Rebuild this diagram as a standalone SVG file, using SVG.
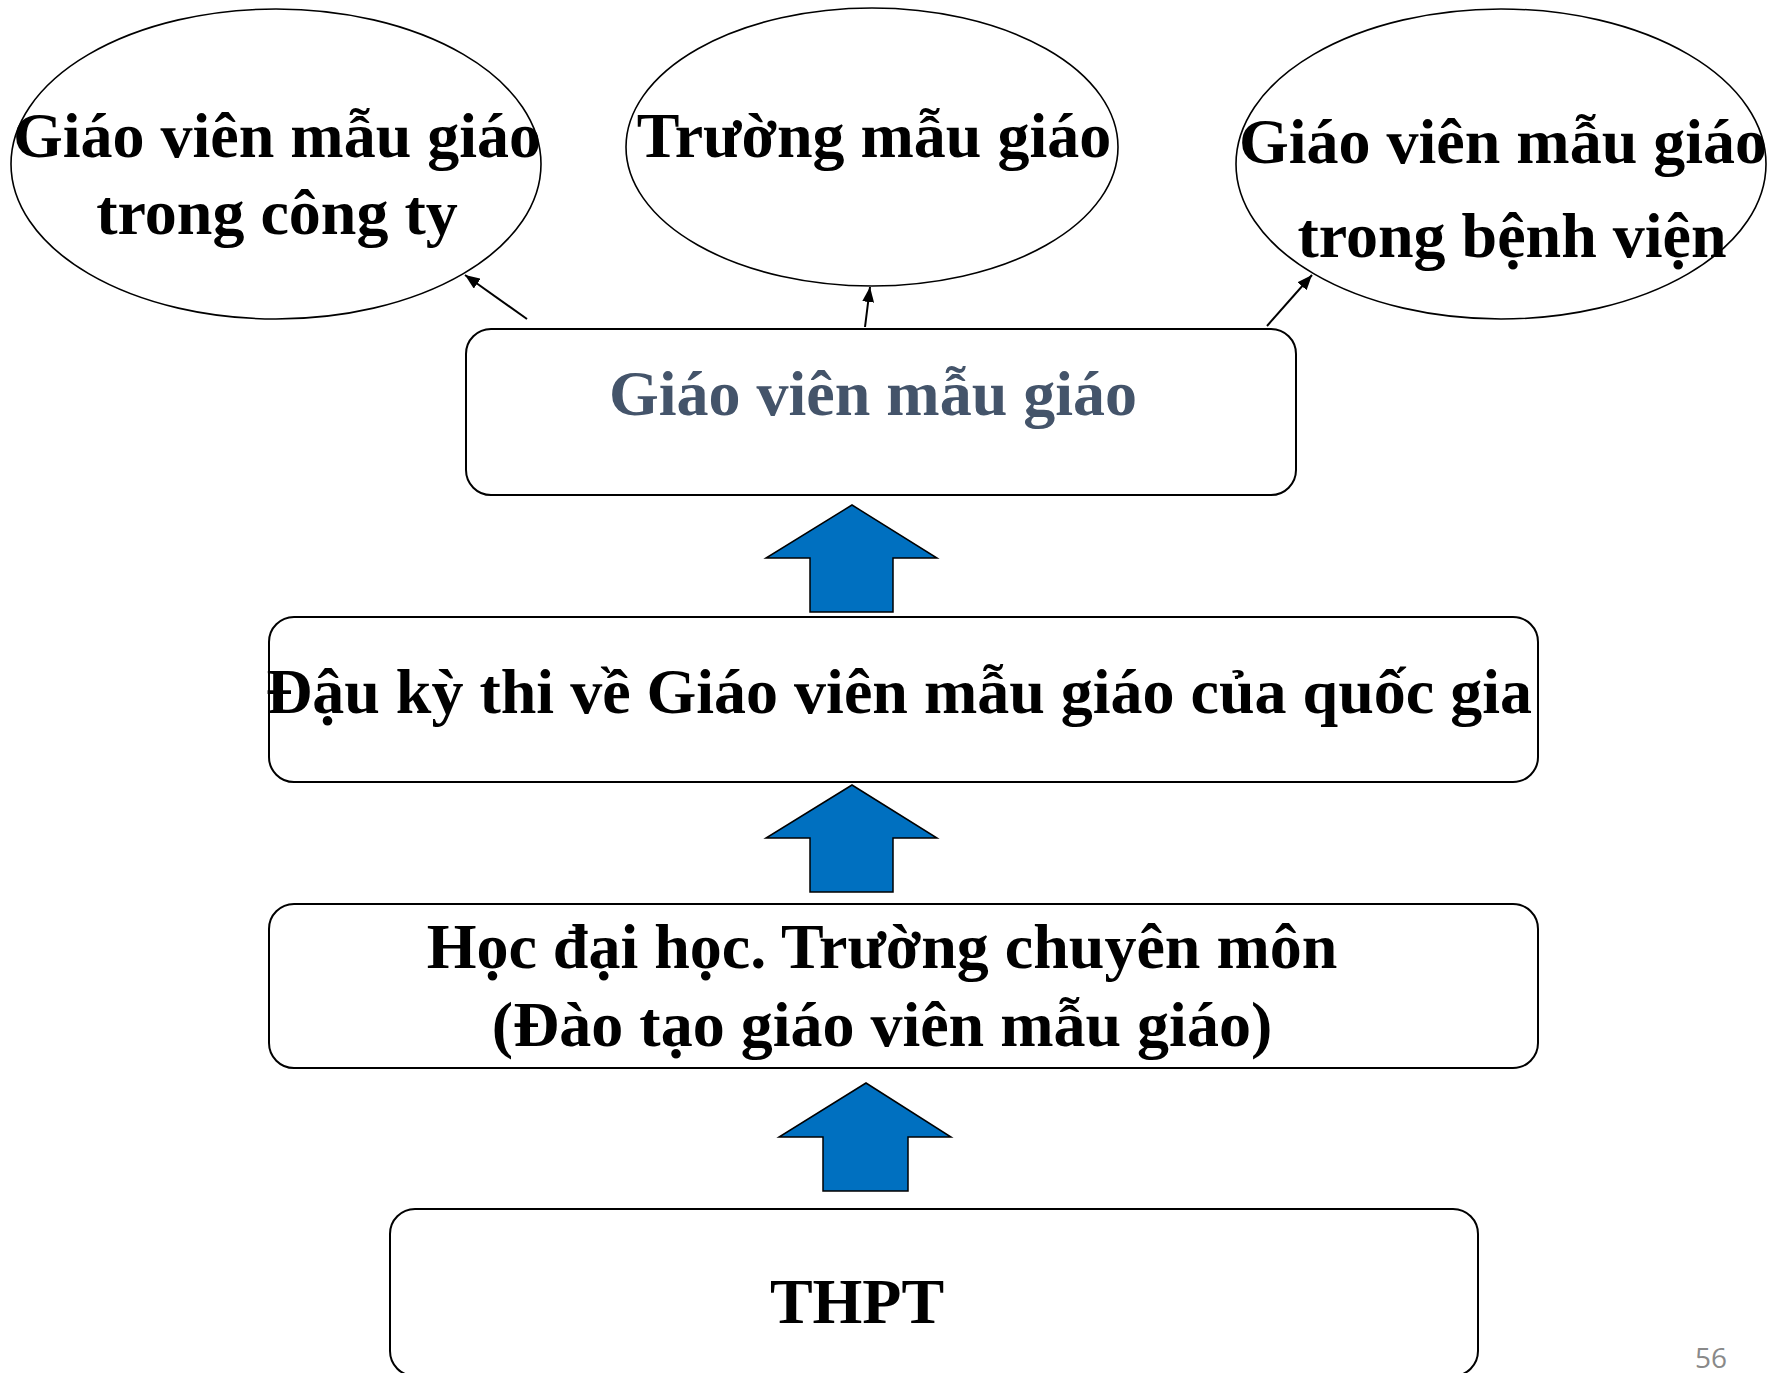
<svg xmlns="http://www.w3.org/2000/svg" width="1771" height="1373" viewBox="0 0 1771 1373">
<style>
.t{font-family:"Liberation Serif","Times New Roman",serif;font-weight:bold;font-size:64px;fill:#000;text-anchor:middle}
.slate{fill:#44546A}
.ell{fill:#fff;stroke:#000;stroke-width:1.6}
.box{fill:#fff;stroke:#000;stroke-width:2}
.blk{fill:#0070C0;stroke:#000;stroke-width:1.5;stroke-linejoin:miter}
.con{fill:none;stroke:#000;stroke-width:2}
.pg{font-family:"Open Sans","Liberation Sans",sans-serif;font-size:28px;fill:#898989;text-anchor:middle}
</style>
<defs>
<marker id="ah" viewBox="0 0 15 12" refX="15" refY="6" markerWidth="15" markerHeight="12" markerUnits="userSpaceOnUse" orient="auto">
<path d="M0,0 L15,6 L0,12 z" fill="#000"/>
</marker>
</defs>
<rect width="1771" height="1373" fill="#fff"/>
<g id="n-cong-ty">
<ellipse class="ell" cx="276" cy="164" rx="265" ry="155"/>
<text class="t" x="277" y="157">Giáo viên mẫu giáo</text>
<text class="t" x="277" y="234">trong công ty</text>
</g>
<g id="n-truong">
<ellipse class="ell" cx="872" cy="147" rx="246" ry="139"/>
<text class="t" x="874" y="157">Trường mẫu giáo</text>
</g>
<g id="n-benh-vien">
<ellipse class="ell" cx="1501" cy="164" rx="265" ry="155"/>
<text class="t" x="1503" y="163">Giáo viên mẫu giáo</text>
<text class="t" x="1512" y="257">trong bệnh viện</text>
</g>
<g id="n-gvmg">
<rect class="box" x="466" y="329" width="830" height="166" rx="25" ry="25"/>
<text class="t slate" x="873" y="415">Giáo viên mẫu giáo</text>
</g>
<g id="n-dau-ky-thi">
<rect class="box" x="269" y="617" width="1269" height="165" rx="25" ry="25"/>
<text class="t" x="899" y="713">Đậu kỳ thi về Giáo viên mẫu giáo của quốc gia</text>
</g>
<g id="n-dai-hoc">
<rect class="box" x="269" y="904" width="1269" height="164" rx="25" ry="25"/>
<text class="t" x="882" y="968">Học đại học. Trường chuyên môn</text>
<text class="t" x="882" y="1046">(Đào tạo giáo viên mẫu giáo)</text>
</g>
<g id="n-thpt">
<rect class="box" x="390" y="1209" width="1088" height="167" rx="25" ry="25"/>
<text class="t" x="857" y="1323">THPT</text>
</g>
<g id="connectors">
<path class="blk" d="M852,505 L937,558 L893,558 L893,612 L810,612 L810,558 L766,558 Z"/>
<path class="blk" d="M852,785 L937,838 L893,838 L893,892 L810,892 L810,838 L766,838 Z"/>
<path class="blk" d="M866,1083 L951,1137 L908,1137 L908,1191 L823,1191 L823,1137 L779,1137 Z"/>
<line class="con" x1="527" y1="319" x2="465" y2="275" marker-end="url(#ah)"/>
<line class="con" x1="865" y1="327" x2="870" y2="287" marker-end="url(#ah)"/>
<line class="con" x1="1267" y1="326" x2="1312" y2="275" marker-end="url(#ah)"/>
</g>
<text class="pg" x="1711" y="1368">56</text>
</svg>
